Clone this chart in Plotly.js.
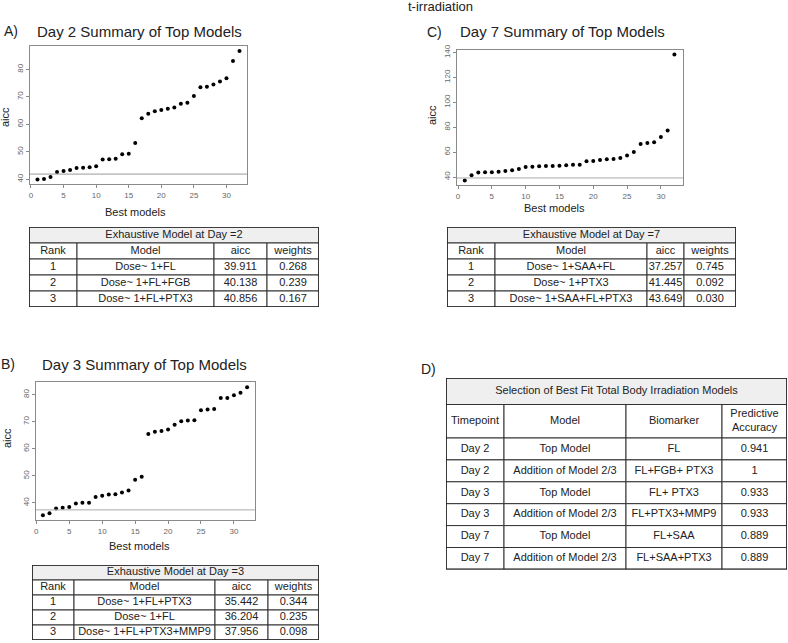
<!DOCTYPE html>
<html><head><meta charset="utf-8">
<script src="https://cdn.plot.ly/plotly-3.0.1.min.js"></script>
<style>html,body{margin:0;padding:0;background:#fff;} #chart{width:788px;height:643px;}</style>
</head><body><div id="chart"></div>
<script>
// ---------- data ----------
const modelIndex = [1,2,3,4,5,6,7,8,9,10,11,12,13,14,15,16,17,18,19,20,21,22,23,24,25,26,27,28,29,30,31,32];
const aiccDay2 = [39.91,40.14,40.86,42.7,43.0,43.4,44.1,44.2,44.4,44.8,47.2,47.3,47.5,49.1,49.3,53.2,62.2,63.9,64.8,65.2,65.7,66.1,67.5,67.9,70.3,73.5,73.7,74.5,75.6,76.8,83.0,86.7];
const aiccDay3 = [35.44,36.20,37.96,38.2,38.5,39.8,40.1,40.1,42.2,42.7,43.1,43.2,43.9,44.6,48.6,49.7,65.5,66.3,66.6,67.1,68.9,70.2,70.5,70.6,74.3,74.5,74.7,78.8,78.8,79.8,80.7,82.8];
const aiccDay7 = [37.26,41.45,43.65,43.8,43.8,44.3,44.8,45.4,46.4,48.0,48.3,48.6,48.8,48.8,49.1,49.4,49.9,49.9,52.6,52.9,53.7,54.2,54.5,55.3,57.4,60.1,66.5,67.3,67.9,72.2,77.5,138.4];

const xTicks = [0,5,10,15,20,25,30];
const yTicksDay2 = [40,50,60,70,80];
const yTicksDay3 = [40,50,60,70,80];
const yTicksDay7 = [40,60,80,100,120,140];

const exhHeader = ["Rank","Model","aicc","weights"];
const day2Title = "Exhaustive Model at Day =2";
const day2Rank = ["1","2","3"];
const day2Model = ["Dose~ 1+FL","Dose~ 1+FL+FGB","Dose~ 1+FL+PTX3"];
const day2Aicc = ["39.911","40.138","40.856"];
const day2Weights = ["0.268","0.239","0.167"];

const day3Title = "Exhaustive Model at Day =3";
const day3Rank = ["1","2","3"];
const day3Model = ["Dose~ 1+FL+PTX3","Dose~ 1+FL","Dose~ 1+FL+PTX3+MMP9"];
const day3Aicc = ["35.442","36.204","37.956"];
const day3Weights = ["0.344","0.235","0.098"];

const day7Title = "Exhaustive Model at Day =7";
const day7Rank = ["1","2","3"];
const day7Model = ["Dose~ 1+SAA+FL","Dose~ 1+PTX3","Dose~ 1+SAA+FL+PTX3"];
const day7Aicc = ["37.257","41.445","43.649"];
const day7Weights = ["0.745","0.092","0.030"];

const bestTitle = "Selection of Best Fit Total Body Irradiation Models";
const bestHeader = ["Timepoint","Model","Biomarker","Predictive<br>Accuracy"];
const bestTimepoint = ["Day 2","Day 2","Day 3","Day 3","Day 7","Day 7"];
const bestModel = ["Top Model","Addition of Model 2/3","Top Model","Addition of Model 2/3","Top Model","Addition of Model 2/3"];
const bestBiomarker = ["FL","FL+FGB+ PTX3","FL+ PTX3","FL+PTX3+MMP9","FL+SAA","FL+SAA+PTX3"];
const bestAccuracy = ["0.941","1","0.933","0.933","0.889","0.889"];

// ---------- helpers ----------
const W = 788, H = 643;
const fx = p => p / W;
const fy = p => 1 - p / H;
const FONT = "Liberation Sans, Arial, sans-serif";
const TXT = "#222";

const data = [];
const shapes = [];
const axes = {};

function scatterPanel(n, yvals, xl, xr, yt, yb, xRange, yRange, yTicks, refColor) {
  const sfx = n === 1 ? "" : String(n);
  const common = {
    showline: true, linecolor: "#8a8a8a", linewidth: 1, mirror: true,
    ticks: "outside", ticklen: 3, tickcolor: "#8a8a8a", tickwidth: 1,
    showgrid: false, zeroline: false,
    tickfont: {family: FONT, size: 8, color: "#666"}, fixedrange: true
  };
  axes["xaxis" + sfx] = Object.assign({}, common, {
    domain: [fx(xl), fx(xr)], range: xRange, tickvals: xTicks, anchor: "y" + sfx
  });
  axes["yaxis" + sfx] = Object.assign({}, common, {
    domain: [fy(yb), fy(yt)], range: yRange, tickvals: yTicks, tickangle: -90, anchor: "x" + sfx
  });
  data.push({
    type: "scatter", mode: "markers", x: modelIndex, y: yvals,
    xaxis: "x" + sfx, yaxis: "y" + sfx,
    marker: {color: "#000", size: 4}, hoverinfo: "x+y"
  });
  const v = Math.min(...yvals) + 2;   // AICc minimum + 2 reference line
  shapes.push({type: "line", xref: "x" + sfx + " domain", x0: 0, x1: 1, yref: "y" + sfx, y0: v, y1: v,
               line: {color: refColor, width: 1}});
}

// table drawn on its own hidden axes (x in px-width units, y in px-height units, reversed)
function tablePanel(n, left, top, widths, titleText, titleH, header, headerH, cols, rowH, fontSize) {
  const sfx = String(n);
  const totW = widths.reduce((a, b) => a + b, 0);
  const nRows = cols[0].length;
  const totH = titleH + headerH + rowH * nRows;
  const hidden = {visible: false, showgrid: false, zeroline: false, fixedrange: true};
  axes["xaxis" + sfx] = Object.assign({}, hidden, {domain: [fx(left), fx(left + totW)], range: [0, totW], anchor: "y" + sfx});
  axes["yaxis" + sfx] = Object.assign({}, hidden, {domain: [fy(top + totH), fy(top)], range: [totH, 0], anchor: "x" + sfx});
  const xr = "x" + sfx, yr = "y" + sfx;
  const cellLine = {color: "#333", width: 1};
  const tx = [], ty = [], tt = [];
  shapes.push({type: "rect", xref: xr, yref: yr, x0: 0, x1: totW, y0: 0, y1: titleH,
               fillcolor: "#efefef", line: cellLine, layer: "below"});
  tx.push(totW / 2); ty.push(titleH / 2); tt.push(titleText);
  const edges = [0];
  widths.forEach(w => edges.push(edges[edges.length - 1] + w));
  const rowTops = [titleH];
  const rowHs = [headerH];
  for (let r = 0; r < nRows; r++) { rowTops.push(titleH + headerH + r * rowH); rowHs.push(rowH); }
  rowTops.forEach((y0, r) => {
    for (let c = 0; c < widths.length; c++) {
      shapes.push({type: "rect", xref: xr, yref: yr, x0: edges[c], x1: edges[c + 1], y0: y0, y1: y0 + rowHs[r],
                   fillcolor: "#fff", line: cellLine, layer: "below"});
      tx.push((edges[c] + edges[c + 1]) / 2);
      ty.push(y0 + rowHs[r] / 2);
      tt.push(r === 0 ? header[c] : cols[c][r - 1]);
    }
  });
  shapes.push({type: "rect", xref: xr, yref: yr, x0: 0, x1: totW, y0: 0, y1: totH,
               line: {color: "#222", width: 1.6}, fillcolor: "rgba(0,0,0,0)"});
  data.push({
    type: "scatter", mode: "text", x: tx, y: ty, text: tt, xaxis: xr, yaxis: yr,
    textposition: "middle center", textfont: {family: FONT, size: fontSize, color: TXT},
    hoverinfo: "skip", cliponaxis: false
  });
}

function ann(text, x, y, size, extra) {
  return Object.assign({
    text: text, xref: "paper", yref: "paper", x: fx(x), y: fy(y),
    xanchor: "left", yanchor: "middle", showarrow: false,
    font: {family: FONT, size: size, color: TXT}
  }, extra || {});
}

// ---------- panels ----------
scatterPanel(1, aiccDay2, 30, 247, 46, 184, [-0.15, 33.15], [38.3, 88.5], yTicksDay2, "#999");
scatterPanel(2, aiccDay3, 36, 255, 382, 520, [-0.05, 33.2], [33.7, 84.7], yTicksDay3, "#aaa");
scatterPanel(3, aiccDay7, 457, 683, 50, 185, [-0.15, 33.27], [33.6, 142.1], yTicksDay7, "#aaa");

tablePanel(4, 29, 227, [48,137,53,52], day2Title, 16, exhHeader, 16,
           [day2Rank, day2Model, day2Aicc, day2Weights], 16, 11);
tablePanel(5, 447, 227, [48,152,37,52], day7Title, 16, exhHeader, 16,
           [day7Rank, day7Model, day7Aicc, day7Weights], 16, 11);
tablePanel(6, 32, 565, [42,141,53,51], day3Title, 15, exhHeader, 15,
           [day3Rank, day3Model, day3Aicc, day3Weights], 15, 11);
tablePanel(7, 446, 378, [58,122,96,65], bestTitle, 26.5, bestHeader, 33.5,
           [bestTimepoint, bestModel, bestBiomarker, bestAccuracy], 21.9, 11);

const layout = Object.assign({
  width: W, height: H, margin: {l: 0, r: 0, t: 0, b: 0},
  paper_bgcolor: "#fff", plot_bgcolor: "#fff", showlegend: false,
  font: {family: FONT, color: TXT},
  shapes: shapes,
  annotations: [
    ann("t-irradiation", 406, 6, 13),
    ann("A)", 2, 31, 14),
    ann("Day 2 Summary of Top Models", 35, 31, 15),
    ann("C)", 425, 32, 14),
    ann("Day 7 Summary of Top Models", 458, 32, 15),
    ann("B)", -1, 364, 14),
    ann("Day 3 Summary of Top Models", 40, 364, 15),
    ann("D)", 419, 369, 14),
    ann("Best models", 135, 212, 11, {xanchor: "center"}),
    ann("Best models", 554, 208, 11, {xanchor: "center"}),
    ann("Best models", 139, 546, 11, {xanchor: "center"}),
    ann("aicc", 5, 117, 11, {xanchor: "center", textangle: -90}),
    ann("aicc", 432, 115, 11, {xanchor: "center", textangle: -90}),
    ann("aicc", 7, 438, 11, {xanchor: "center", textangle: -90})
  ]
}, axes);

Plotly.newPlot("chart", data, layout, {displayModeBar: false, staticPlot: true});
</script>
</body></html>
